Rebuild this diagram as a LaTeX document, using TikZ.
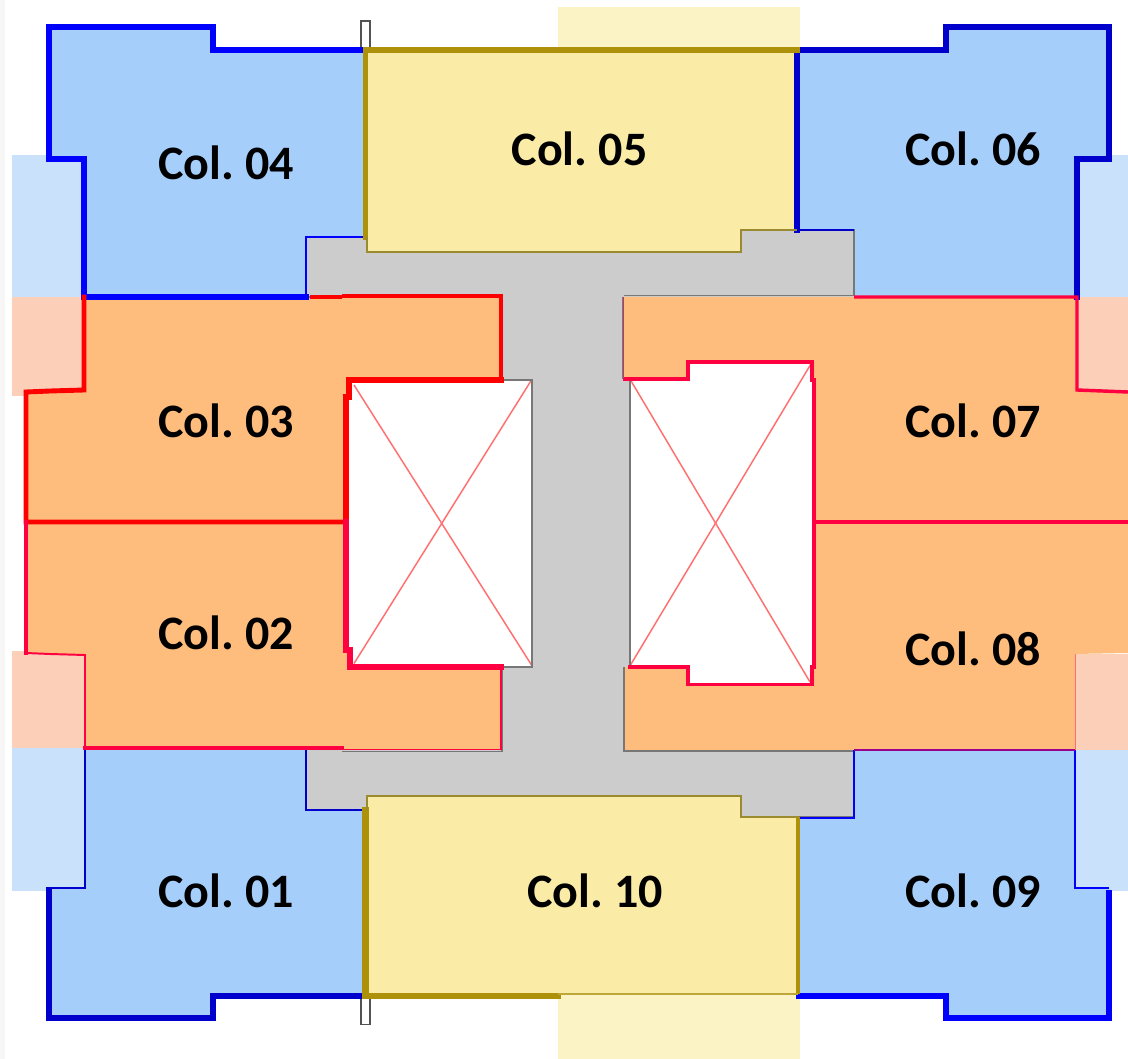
\documentclass[tikz,border=0pt]{standalone}
\usepackage{fontspec}
\setmainfont{Carlito}[WordSpace=0.7]
\definecolor{bluefill}{HTML}{A6CEFA}
\definecolor{bluepale}{HTML}{C9E1FA}
\definecolor{orangefill}{HTML}{FEBD7D}
\definecolor{salmon}{HTML}{FBCFB8}
\definecolor{yellowfill}{HTML}{FAECA7}
\definecolor{yellowpale}{HTML}{FBF2C5}
\definecolor{coregray}{HTML}{CCCCCC}
\definecolor{edgegray}{HTML}{777777}
\definecolor{olive}{HTML}{AD9108}
\definecolor{olivegray}{HTML}{9A8A30}
\definecolor{crimson}{HTML}{FF0040}
\definecolor{navy}{HTML}{0000CC}
\definecolor{pureblue}{HTML}{0000FF}
\definecolor{purered}{HTML}{FF0000}
\definecolor{xline}{HTML}{FF7070}
\tikzset{
  lw/.style={line width=#1*0.92pt},
  edge/.style={line join=miter,line cap=rect},
  collabel/.style={anchor=base,font=\fontsize{36}{36}\selectfont\bfseries,text=black,inner sep=0pt}
}
\begin{document}
\begin{tikzpicture}[x=0.75pt,y=-0.75pt]
\useasboundingbox (0,0) rectangle (1128,1059);
\fill[white] (0,0) rectangle (1128,1059);
\fill[black!3] (0,0) rectangle (5,1059);
% pale balconies
\fill[bluepale] (11.5,155.5) rectangle (84,297);
\fill[salmon] (11.5,297) rectangle (84,395.5);
\fill[salmon] (11.5,651) rectangle (85,748);
\fill[bluepale] (11.5,748) rectangle (85,890.7);
\fill[bluepale] (1077,155.5) rectangle (1128,297);
\fill[salmon] (1077,297) rectangle (1128,392);
\fill[salmon] (1075,654) rectangle (1128,750);
\fill[bluepale] (1075,750) rectangle (1128,890.7);
\fill[yellowpale] (558,7) rectangle (800,50);
\fill[yellowpale] (558,994) rectangle (800,1059);
% small slots
\draw[edgegray!70!black,lw=1.2,fill=white] (361,21) rectangle (370,50);
\draw[edgegray!70!black,lw=1.2,fill=white] (361,996) rectangle (370,1024.5);
% core
\fill[coregray] (306,230) -- (854,230) -- (854,297) -- (630,297) -- (630,750) -- (854,750) -- (854,817) -- (306,817) -- (306,750) -- (501,750) -- (501,297) -- (306,297) -- cycle;
% shafts
\fill[white] (349,380) rectangle (532,667);
\fill[white] (630,362) rectangle (814,684.5);
% blue units
\fill[bluefill] (49,27) -- (213,27) -- (213,50) -- (365,50) -- (365,237) -- (306,237) -- (306,297) -- (84,297) -- (84,159) -- (49,159) -- cycle;
\fill[bluefill] (797,50) -- (946,50) -- (946,27) -- (1109,27) -- (1109,159) -- (1077,159) -- (1077,297) -- (854,297) -- (854,230) -- (797,230) -- cycle;
\fill[bluefill] (85,748) -- (306,748) -- (306,810) -- (365,810) -- (365,996) -- (213,996) -- (213,1018) -- (49,1018) -- (49,888) -- (85,888) -- cycle;
\fill[bluefill] (854,750) -- (1075,750) -- (1075,888) -- (1109,888) -- (1109,1018) -- (946,1018) -- (946,996) -- (799,996) -- (799,817) -- (854,817) -- cycle;
% yellow units
\fill[yellowfill] (365,50) -- (797,50) -- (797,230) -- (741,230) -- (741,252) -- (367,252) -- (367,237) -- (365,237) -- cycle;
\fill[yellowfill] (367,796) -- (741,796) -- (741,817) -- (799,817) -- (799,994) -- (558,994) -- (558,996) -- (365,996) -- (365,810) -- (367,810) -- cycle;
% orange units
\fill[orangefill] (84,297) -- (501,297) -- (501,380) -- (349,380) -- (349,397) -- (346,397) -- (346,522) -- (26,522) -- (26,392) -- (50,391) -- (84,390) -- cycle;
\fill[orangefill] (26,522) -- (346,522) -- (346,650) -- (350,650) -- (350,667) -- (501,667) -- (501,750) -- (85,748) -- (85,655) -- (50,654) -- (26,653) -- cycle;
\fill[orangefill] (623,297) -- (1077,297) -- (1077,390) -- (1128,392) -- (1128,522) -- (814,522) -- (814,380) -- (812,380) -- (812,362) -- (688,362) -- (688,379) -- (623,379) -- cycle;
\fill[orangefill] (814,522) -- (1128,522) -- (1128,653) -- (1075,654) -- (1075,750) -- (624,751) -- (624,667) -- (688,667) -- (688,684.5) -- (812,684.5) -- (812,667) -- (814,667) -- cycle;
% shaft crosses
\draw[xline,lw=1.2] (354,385) -- (531.5,665);
\draw[xline,lw=1.2] (531.5,380) -- (354,663.5);
\draw[xline,lw=1.2] (630.5,380) -- (810,682);
\draw[xline,lw=1.2] (811.5,363) -- (630.5,665);
% gray edges
\draw[edgegray,lw=1.2] (501,380) -- (532,380) -- (532,667) -- (501,667);
\draw[edgegray,lw=1.2] (630,380) -- (630,667);
\draw[edgegray,lw=1.6] (342,295.5) -- (501,295.5);
\draw[edgegray,lw=1.6] (624,295.5) -- (854,295.5) -- (854,230) -- (797,230);
\draw[edgegray,lw=1.6] (623,297) -- (623,379);
\draw[edgegray,lw=1.6] (624,667) -- (624,751) -- (854,751) -- (854,817) -- (799,817);
\draw[edgegray,lw=1.6] (342,751.5) -- (502,751.5) -- (502,667);
\draw[edgegray,lw=1.6] (306,297) -- (342,297);
% Col 04
\draw[pureblue,edge,lw=4.5] (365,50) -- (213,50) -- (213,27) -- (49,27) -- (49,159) -- (84,159) -- (84,297) -- (306,297);
\draw[pureblue,lw=1.6] (306,297) -- (306,237) -- (365,237);
% Col 06
\draw[navy,edge,lw=4.5] (797,230) -- (797,50) -- (946,50) -- (946,27) -- (1109,27) -- (1109,159) -- (1077,159) -- (1077,297);
\draw[navy,lw=1.6] (797,230) -- (854,230);
% Col 01
\draw[navy,lw=1.6] (85,748) -- (85,888) -- (49,888);
\draw[navy,edge,lw=4.5] (49,890) -- (49,1018) -- (213,1018) -- (213,996) -- (365,996);
\draw[navy,lw=1.6] (306,750) -- (306,810) -- (365,810);
% Col 09
\draw[pureblue,lw=1.6] (799,818) -- (854,818) -- (854,750);
\draw[pureblue,lw=1.6] (1075,750) -- (1075,888) -- (1109,888);
\draw[pureblue,edge,lw=4.5] (1109,1018) -- (946,1018) -- (946,996) -- (799,996);
\draw[pureblue,lw=5.5] (1109,890) -- (1109,1018);
\draw[crimson!60!blue,lw=1.2] (854,750) -- (1075,750);
% Col 03
\draw[purered,edge,lw=4] (84,297) -- (84,390) -- (50,391) -- (26,392) -- (26,522) -- (346,522);
\draw[purered,lw=2.5] (310,297) -- (342,297);
\draw[purered,lw=2.5] (342,296) -- (501,296) -- (501,380);
\draw[purered,edge,lw=5] (501,380) -- (349,380) -- (349,397) -- (346,397) -- (346,522);
% Col 02
\draw[crimson,edge,lw=5] (346,522) -- (346,650) -- (350,650) -- (350,667) -- (501,667);
\draw[crimson,edge,lw=4] (26,522) -- (26,653);
\draw[crimson,lw=1.6] (26,653) -- (50,654) -- (85,655) -- (85,748);
\draw[crimson,edge,lw=4] (85,748) -- (342,748);
\draw[crimson,lw=1.2] (342,749.5) -- (501,749.5) -- (501,667);
% Col 07
\draw[crimson,lw=2.8] (854,297) -- (1077,297) -- (1077,390) -- (1128,392);
\draw[crimson,lw=2.8] (623,379) -- (688,379) -- (688,362) -- (812,362) -- (812,380) -- (814,380) -- (814,522) -- (1128,522);
\draw[crimson!50!edgegray,lw=0.8] (623,297) -- (623,379);
% Col 08
\draw[crimson,lw=2.8] (814,522) -- (814,667) -- (812,667) -- (812,684.5) -- (688,684.5) -- (688,667) -- (628,667);
\draw[xline,lw=0.8] (1075,654) -- (1075,750);
% Col 05
\draw[olive,edge,lw=4.5] (365.5,237) -- (365.5,50) -- (797,50);
\draw[olivegray,lw=1.6] (367,237) -- (367,252) -- (741,252) -- (741,230) -- (797,230);
% Col 10
\draw[olive,edge,lw=5] (365.5,810) -- (365.5,996) -- (558,996);
\draw[olivegray,lw=1.6] (367,810) -- (367,796) -- (741,796) -- (741,817) -- (799,817);
\draw[olive,lw=4] (798,817) -- (798,994);
\draw[olive!80!white,lw=1.2] (558,994) -- (798,994);
% labels
\node[collabel] (col01) at (226,907) {Col. 01};
\node[collabel] (col02) at (226,649) {Col. 02};
\node[collabel] (col03) at (226,437) {Col. 03};
\node[collabel] (col04) at (226,180) {Col. 04};
\node[collabel] (col05) at (579.5,166) {Col. 05};
\node[collabel] (col06) at (973,166) {Col. 06};
\node[collabel] (col07) at (973,437) {Col. 07};
\node[collabel] (col08) at (973,665) {Col. 08};
\node[collabel] (col09) at (973,907) {Col. 09};
\node[collabel] (col10) at (595,907) {Col. 10};
\end{tikzpicture}
\end{document}
